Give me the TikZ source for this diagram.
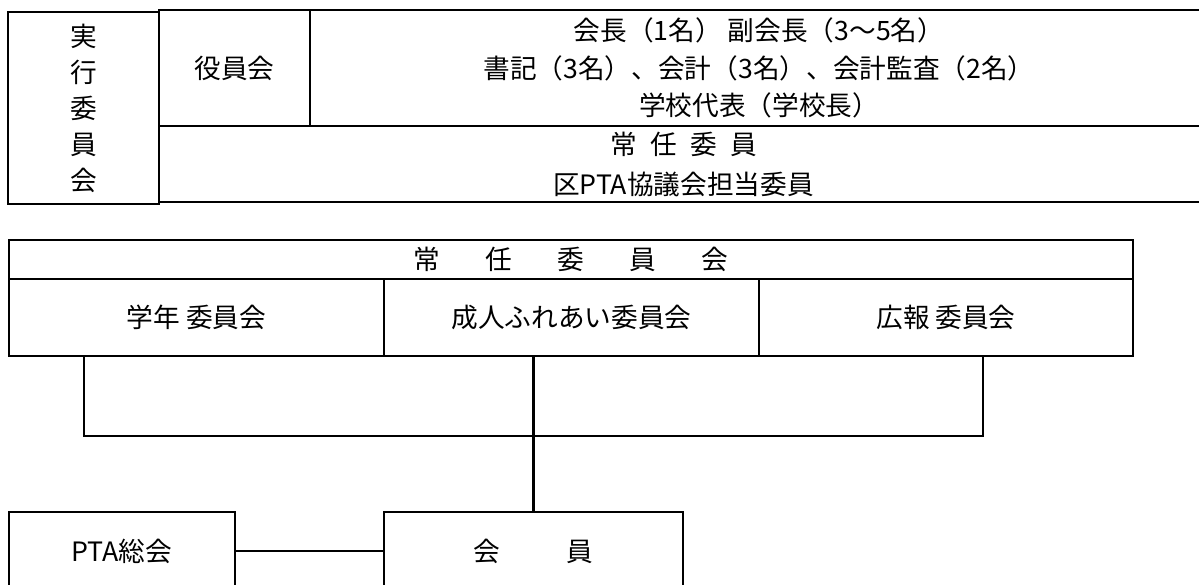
\documentclass[tikz,border=0pt]{standalone}
\usepackage{fontspec}
\setmainfont{Noto Sans CJK JP}

\begin{document}
\begin{tikzpicture}[x=0.75pt, y=-0.75pt, line width=2.2pt]

  \newcommand\U{0.75pt}
  \tikzset{cell/.style n args={2}{draw, inner sep=0pt, align=center,
      minimum width=#1*\U, minimum height=#2*\U,
      font=\fontsize{20}{28}\selectfont}}

  \useasboundingbox (0,0) rectangle (1199,585);

  %% upper table
  \node[cell={151}{192}, font=\fontsize{20}{27}\selectfont] (jikko) at (83.5,108) {実\\行\\委\\員\\会};
  \node[cell={151}{116}] (yakuin) at (234.5,68) {役員会};
  \node[cell={898}{116}] (yakuinmei) at (759,68)
    {会長（1名） 副会長（3〜5名）\\書記（3名）、会計（3名）、会計監査（2名）\\学校代表（学校長）};
  \node[cell={1049}{76}, font=\fontsize{20}{30}\selectfont] (jonin) at (683.5,164)
    {常\hspace{0.5em}任\hspace{0.5em}委\hspace{0.5em}員\\区PTA協議会担当委員};

  %% lower table
  \node[cell={1124}{39}] (joninkai) at (571,259.5)
    {常\hspace{1.7em}任\hspace{1.7em}委\hspace{1.7em}員\hspace{1.7em}会};
  \node[cell={375}{77}] (gakunen) at (196.5,317.5) {学年 委員会};
  \node[cell={375}{77}] (seijin) at (571.5,317.5) {成人ふれあい委員会};
  \node[cell={374}{77}] (kouhou) at (946,317.5) {広報 委員会};

  \coordinate (bl) at (84,436);
  \coordinate (br) at (983,436);

  \node[cell={226}{78}] (sokai) at (122,551) {PTA総会};
  \node[cell={299}{78}] (kaiin) at (533.5,551) {会\hspace{2.5em}員};

  \draw (bl |- gakunen.south) -- (bl) -- (br) -- (br |- kouhou.south); %% bracket
  \draw (kaiin.north) -- (kaiin.north |- seijin.south);
  \draw (sokai) -- (kaiin);
\end{tikzpicture}
\end{document}
